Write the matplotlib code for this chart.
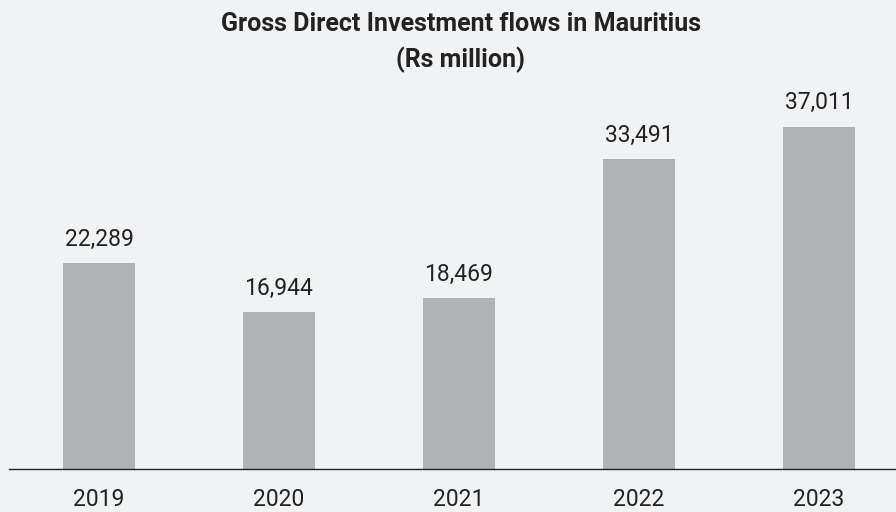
import matplotlib.pyplot as plt

years = ["2019", "2020", "2021", "2022", "2023"]
flows = [22289, 16944, 18469, 33491, 37011]

bg = "#f1f2f4"
bar_color = "#b1b2b4"
text_color = "#222222"

plt.rcParams["font.family"] = ["Roboto", "DejaVu Sans"]

fig = plt.figure(figsize=(8.96, 5.12), dpi=100, facecolor=bg)
ax = fig.add_axes([9 / 896, 0.084, 1 - 9 / 896, 0.76])
ax.set_facecolor(bg)

x = range(len(years))
bars = ax.bar(x, flows, width=0.4, color=bar_color, zorder=2)

for b, v in zip(bars, flows):
    ax.annotate(f"{v:,}", (b.get_x() + b.get_width() / 2, v),
                xytext=(0, 9), textcoords="offset points",
                ha="center", va="bottom", fontsize=16.5, color=text_color)

ax.set_xlim(-0.5, 4.428)
ax.set_ylim(0, 42100)
ax.set_xticks(list(x))
ax.set_xticklabels(years, fontsize=16.5, color=text_color)
ax.tick_params(axis="x", length=0, pad=14)
ax.set_yticks([])
for side in ["top", "right", "left"]:
    ax.spines[side].set_visible(False)
ax.spines["bottom"].set_color("#222222")
ax.spines["bottom"].set_linewidth(1.0)

fig.text(0.514, 0.976, "Gross Direct Investment flows in Mauritius\n(Rs million)",
         ha="center", va="top", fontsize=18, fontweight="bold",
         color=text_color, linespacing=1.5)

fig.savefig("out.png", dpi=100, facecolor=bg)
